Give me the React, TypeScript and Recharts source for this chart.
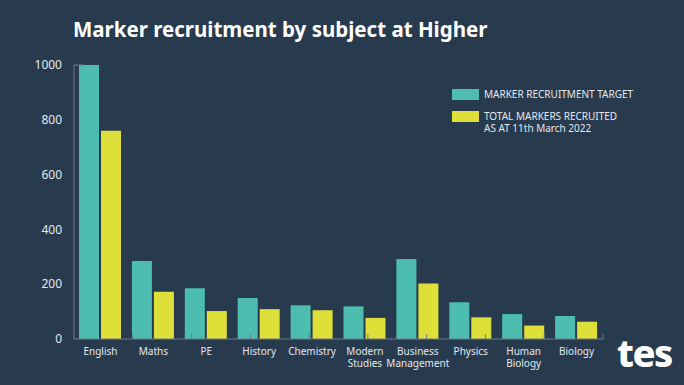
import React from 'react'
import { BarChart, Bar, XAxis, YAxis, ReferenceLine } from 'recharts'

const subjects = [
  'English',
  'Maths',
  'PE',
  'History',
  'Chemistry',
  'Modern Studies',
  'Business Management',
  'Physics',
  'Human Biology',
  'Biology'
]
const recruitmentTarget = [1000, 285, 185, 150, 123, 119, 292, 134, 91, 84]
const markersRecruited = [760, 172, 102, 109, 105, 77, 203, 79, 49, 63]
const yTicks = [0, 200, 400, 600, 800, 1000]
const boundaryTicks = [1, 2, 3, 4, 5, 6, 7, 8, 9, 10]

const BG = '#283b4e'
const TEAL = '#4dbdb0'
const YELLOW = '#dfdf3a'
const TEXT = '#e3e8ee'
const AXIS = '#6a7b8b'
const FONT = '"Noto Sans", sans-serif'

const data = subjects.map((subject, i) => ({
  subject,
  target: recruitmentTarget[i],
  recruited: markersRecruited[i]
}))

function CategoryTick(props: any) {
  const { x, y, payload } = props
  const lines = String(payload.value).split(' ')
  return (
    <text x={x} y={y} textAnchor="middle" fill={TEXT} fontSize={10} fontFamily={FONT}>
      {lines.map((line, i) => (
        <tspan key={i} x={x} dy={i === 0 ? '0.75em' : '1.25em'}>
          {line}
        </tspan>
      ))}
    </text>
  )
}

function LegendBox() {
  const row = { display: 'flex', alignItems: 'flex-start', marginBottom: 9 }
  const swatch = (color: string) => ({ width: 27, height: 11, background: color, marginRight: 5, marginTop: 1 })
  return (
    <div style={{ position: 'absolute', left: 452, top: 88, fontFamily: FONT, fontSize: 10, color: TEXT, lineHeight: '12.5px' }}>
      <div style={row}>
        <div style={swatch(TEAL)} />
        <div>MARKER RECRUITMENT TARGET</div>
      </div>
      <div style={row}>
        <div style={swatch(YELLOW)} />
        <div>
          TOTAL MARKERS RECRUITED
          <br />
          AS AT 11th March 2022
        </div>
      </div>
    </div>
  )
}

export default function App() {
  return (
    <div style={{ position: 'absolute', left: 0, top: 0, width: 684, height: 385, background: BG, overflow: 'hidden' }}>
      <div
        style={{
          position: 'absolute',
          left: 73,
          top: 15,
          fontFamily: FONT,
          fontWeight: 700,
          fontSize: 20.5,
          color: '#ffffff'
        }}
      >
        Marker recruitment by subject at Higher
      </div>

      <BarChart
        width={684}
        height={385}
        data={data}
        margin={{ top: 65, right: 81, left: 24, bottom: 6 }}
        barSize={20}
        barGap={2}
      >
        <XAxis
          dataKey="subject"
          interval={0}
          height={40}
          tickLine={false}
          axisLine={{ stroke: AXIS }}
          tick={<CategoryTick />}
        />
        <XAxis xAxisId="bounds" type="number" domain={[0, 10]} allowDataOverflow hide />
        <YAxis
          width={50}
          domain={[0, 1000]}
          ticks={yTicks}
          tickLine={false}
          axisLine={{ stroke: AXIS }}
          tick={{ fill: TEXT, fontSize: 12, fontFamily: FONT }}
          tickMargin={6}
        />
        <Bar dataKey="target" fill={TEAL} isAnimationActive={false} />
        <Bar dataKey="recruited" fill={YELLOW} isAnimationActive={false} />
        {boundaryTicks.map((b) => (
          <ReferenceLine
            key={b}
            xAxisId="bounds"
            segment={[
              { x: b, y: 0 },
              { x: b, y: 18 }
            ]}
            stroke={AXIS}
          />
        ))}
        <ReferenceLine
          xAxisId="bounds"
          segment={[
            { x: 0, y: 1000 },
            { x: 0.17, y: 1000 }
          ]}
          stroke={AXIS}
        />
      </BarChart>

      <LegendBox />

      <div
        style={{
          position: 'absolute',
          left: 617,
          top: 330,
          fontFamily: FONT,
          fontWeight: 800,
          fontSize: 38,
          letterSpacing: -1.5,
          color: '#ffffff',
          lineHeight: '44px'
        }}
      >
        tes
      </div>
    </div>
  )
}
